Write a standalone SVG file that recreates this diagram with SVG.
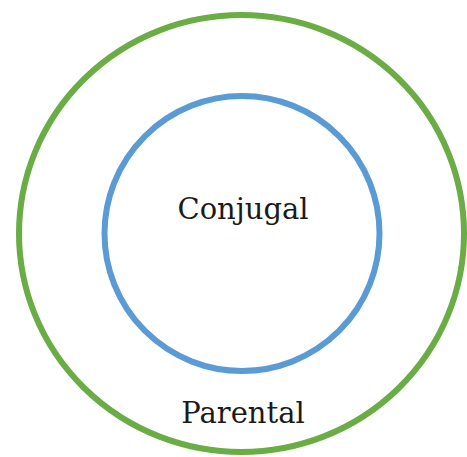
<svg xmlns="http://www.w3.org/2000/svg" width="467" height="457" viewBox="0 0 467 457">
  <style>
    .lbl { font-family: "DejaVu Serif", "Liberation Serif", serif; font-size: 29px; fill: #1a1a1a; text-anchor: middle; }
    .ring { fill: none; stroke-width: 6; }
  </style>
  <rect width="467" height="457" fill="#ffffff"/>
  <g id="parental">
    <ellipse class="ring" cx="241.5" cy="233.5" rx="222.5" ry="218.5" stroke="#6aad45"/>
    <text class="lbl" x="243" y="423">Parental</text>
  </g>
  <g id="conjugal">
    <circle class="ring" cx="242" cy="233.5" r="137.5" stroke="#5b9bd5"/>
    <text class="lbl" x="243" y="219">Conjugal</text>
  </g>
  <g id="connectors"/>
</svg>
